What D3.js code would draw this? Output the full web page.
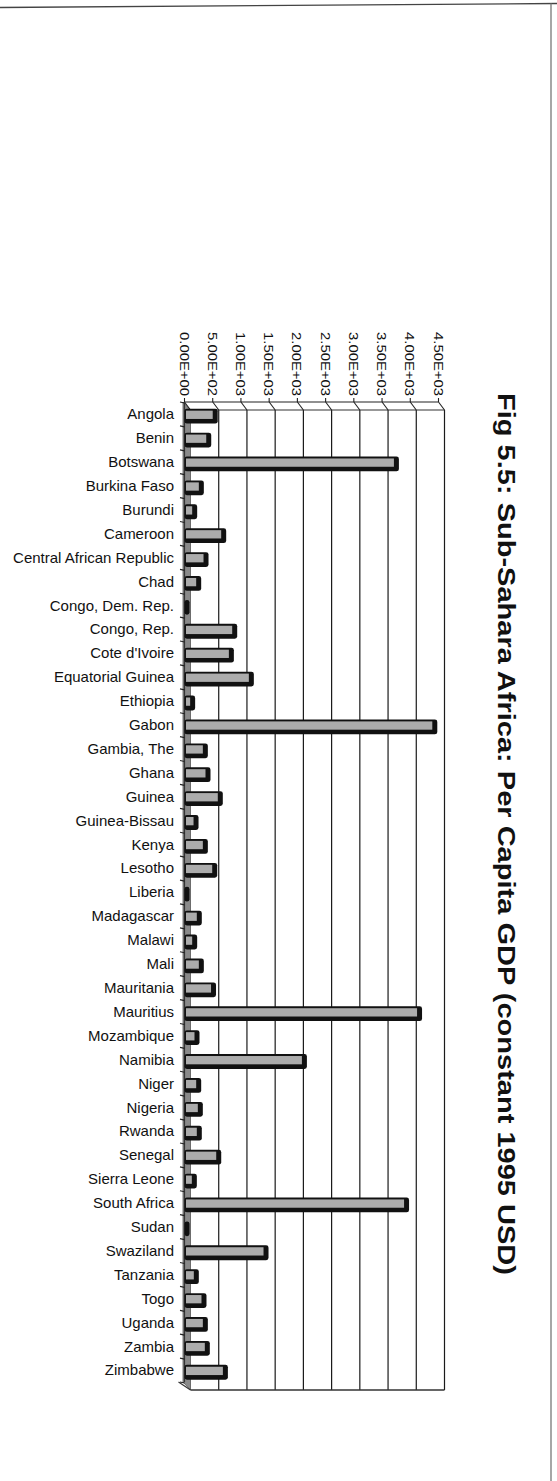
<!DOCTYPE html>
<html>
<head>
<meta charset="utf-8">
<script src="https://cdn.jsdelivr.net/npm/d3@7"></script>
<style>
  html, body { margin: 0; padding: 0; background: #fff; }
  svg { display: block; }
  text { font-family: "Liberation Sans", Arial, sans-serif; fill: #111; }
</style>
</head>
<body>
<svg id="chart" width="557" height="1481"></svg>
<script>
// Per capita GDP, constant 1995 USD
const countries = [
  "Angola", "Benin", "Botswana", "Burkina Faso", "Burundi", "Cameroon",
  "Central African Republic", "Chad", "Congo, Dem. Rep.", "Congo, Rep.",
  "Cote d'Ivoire", "Equatorial Guinea", "Ethiopia", "Gabon", "Gambia, The",
  "Ghana", "Guinea", "Guinea-Bissau", "Kenya", "Lesotho", "Liberia",
  "Madagascar", "Malawi", "Mali", "Mauritania", "Mauritius", "Mozambique",
  "Namibia", "Niger", "Nigeria", "Rwanda", "Senegal", "Sierra Leone",
  "South Africa", "Sudan", "Swaziland", "Tanzania", "Togo", "Uganda",
  "Zambia", "Zimbabwe"
];
const gdpPerCapita = [
  500, 385, 3710, 254, 136, 650,
  337, 207, 0, 845,
  786, 1140, 100, 4390, 325,
  372, 590, 160, 325, 491, 0,
  218, 136, 254, 470, 4120, 177,
  2080, 207, 236, 218, 562, 130,
  3890, 0, 1400, 165, 301, 325,
  360, 680
];
const valueTicks = [0, 500, 1000, 1500, 2000, 2500, 3000, 3500, 4000, 4500];
const tickLabels = ["0.00E+00", "5.00E+02", "1.00E+03", "1.50E+03", "2.00E+03",
                    "2.50E+03", "3.00E+03", "3.50E+03", "4.00E+03", "4.50E+03"];
const titleText = "Fig 5.5: Sub-Sahara Africa: Per Capita GDP (constant 1995 USD)";

const svg = d3.select("#chart");

// 3-D box: front plane and the receding back plane offset by (dx, dy)
const dx = 6, dy = 8;
const x = d3.scaleLinear().domain([0, 4500]).range([184.5, 438.5]);
const y = d3.scaleBand().domain(countries).range([402, 1382]).padding(0);
const bw = y.bandwidth();
const x0 = x(0);
const [yTop, yBot] = y.range();

// page frame
svg.append("line").attr("x1", 0).attr("y1", 7.5).attr("x2", 557).attr("y2", 3.5)
  .attr("stroke", "#444").attr("stroke-width", 1.3);
svg.append("line").attr("x1", 551).attr("y1", 3.5).attr("x2", 551).attr("y2", 1481)
  .attr("stroke", "#777").attr("stroke-width", 1.3);

// side wall (category floor)
svg.append("path")
  .attr("d", `M${x0 - 1.5},${yTop} L${x0 + dx},${yTop + dy} L${x0 + dx},${yBot + dy} L${x0 - 1.5},${yBot} Z`)
  .attr("fill", "#8a8a8a").attr("stroke", "#555").attr("stroke-width", 0.8);

// back-wall gridlines
const g = svg.append("g");
g.selectAll("line.grid").data(valueTicks.filter(v => v > 0)).join("line")
  .attr("class", "grid")
  .attr("x1", d => x(d) + dx).attr("x2", d => x(d) + dx)
  .attr("y1", yTop + dy).attr("y2", yBot + dy)
  .attr("stroke", "#1a1a1a").attr("stroke-width", 1.2);

// top wall: front edge, back edge and the receding lines
g.append("line").attr("x1", x0).attr("x2", x(4500)).attr("y1", yTop).attr("y2", yTop)
  .attr("stroke", "#222").attr("stroke-width", 1.2);
g.append("line").attr("x1", x0 + dx).attr("x2", x(4500) + dx).attr("y1", yTop + dy).attr("y2", yTop + dy)
  .attr("stroke", "#333").attr("stroke-width", 1.1);
g.selectAll("line.recede").data(valueTicks).join("line")
  .attr("class", "recede")
  .attr("x1", d => x(d)).attr("y1", yTop)
  .attr("x2", d => x(d) + dx).attr("y2", yTop + dy)
  .attr("stroke", "#222").attr("stroke-width", 1.1);

// bottom edges
g.append("line").attr("x1", x0 + dx).attr("x2", x(4500) + dx).attr("y1", yBot + dy).attr("y2", yBot + dy)
  .attr("stroke", "#333").attr("stroke-width", 1.3);
g.append("line").attr("x1", x0 - 6).attr("y1", yBot).attr("x2", x0 + dx).attr("y2", yBot + dy)
  .attr("stroke", "#333").attr("stroke-width", 1.1);

// value axis ticks and rotated labels
g.selectAll("line.vtick").data(valueTicks).join("line")
  .attr("class", "vtick")
  .attr("x1", d => x(d)).attr("x2", d => x(d))
  .attr("y1", yTop - 4).attr("y2", yTop)
  .attr("stroke", "#222").attr("stroke-width", 1.1);
g.selectAll("text.vlabel").data(valueTicks).join("text")
  .attr("class", "vlabel")
  .attr("transform", d => `translate(${x(d) - 5},${yTop - 6}) rotate(90)`)
  .attr("text-anchor", "end")
  .attr("font-size", 13.6)
  .attr("textLength", 64).attr("lengthAdjust", "spacingAndGlyphs")
  .text((d, i) => tickLabels[i]);

// category axis line, ticks and labels
g.append("line").attr("x1", x0).attr("x2", x0).attr("y1", yTop).attr("y2", yBot)
  .attr("stroke", "#333").attr("stroke-width", 1.2);
const boundaries = countries.map(c => y(c)).concat([yBot]);
g.selectAll("line.ctick").data(boundaries).join("line")
  .attr("class", "ctick")
  .attr("x1", x0 - 4.5).attr("x2", x0)
  .attr("y1", d => d).attr("y2", d => d + 1)
  .attr("stroke", "#222").attr("stroke-width", 1.2);
g.selectAll("text.clabel").data(countries).join("text")
  .attr("class", "clabel")
  .attr("x", 174)
  .attr("y", d => y(d) + bw / 2)
  .attr("dy", "0.36em")
  .attr("text-anchor", "end")
  .attr("font-size", 15)
  .text(d => d);

// 3-D bars: dark extruded body behind a light front face
const bars = svg.append("g").selectAll("g.bar").data(countries).join("g").attr("class", "bar");
bars.append("rect")
  .attr("x", x0)
  .attr("y", d => y(d) + bw / 2 - 5.2)
  .attr("width", (d, i) => x(gdpPerCapita[i]) - x0 + 5)
  .attr("height", 14.8)
  .attr("rx", 2.4)
  .attr("fill", "#111");
bars.append("rect")
  .attr("x", x0 + 1.5)
  .attr("y", d => y(d) + bw / 2 - 3.3)
  .attr("width", (d, i) => Math.max(0, x(gdpPerCapita[i]) - x0 - 1.5))
  .attr("height", 8.3)
  .attr("fill", "#acacac");

// title, rotated to read downward
svg.append("text")
  .attr("transform", "translate(498,393) rotate(90)")
  .attr("font-size", 23.5)
  .attr("font-weight", "bold")
  .attr("textLength", 882).attr("lengthAdjust", "spacingAndGlyphs")
  .text(titleText);
</script>
</body>
</html>
